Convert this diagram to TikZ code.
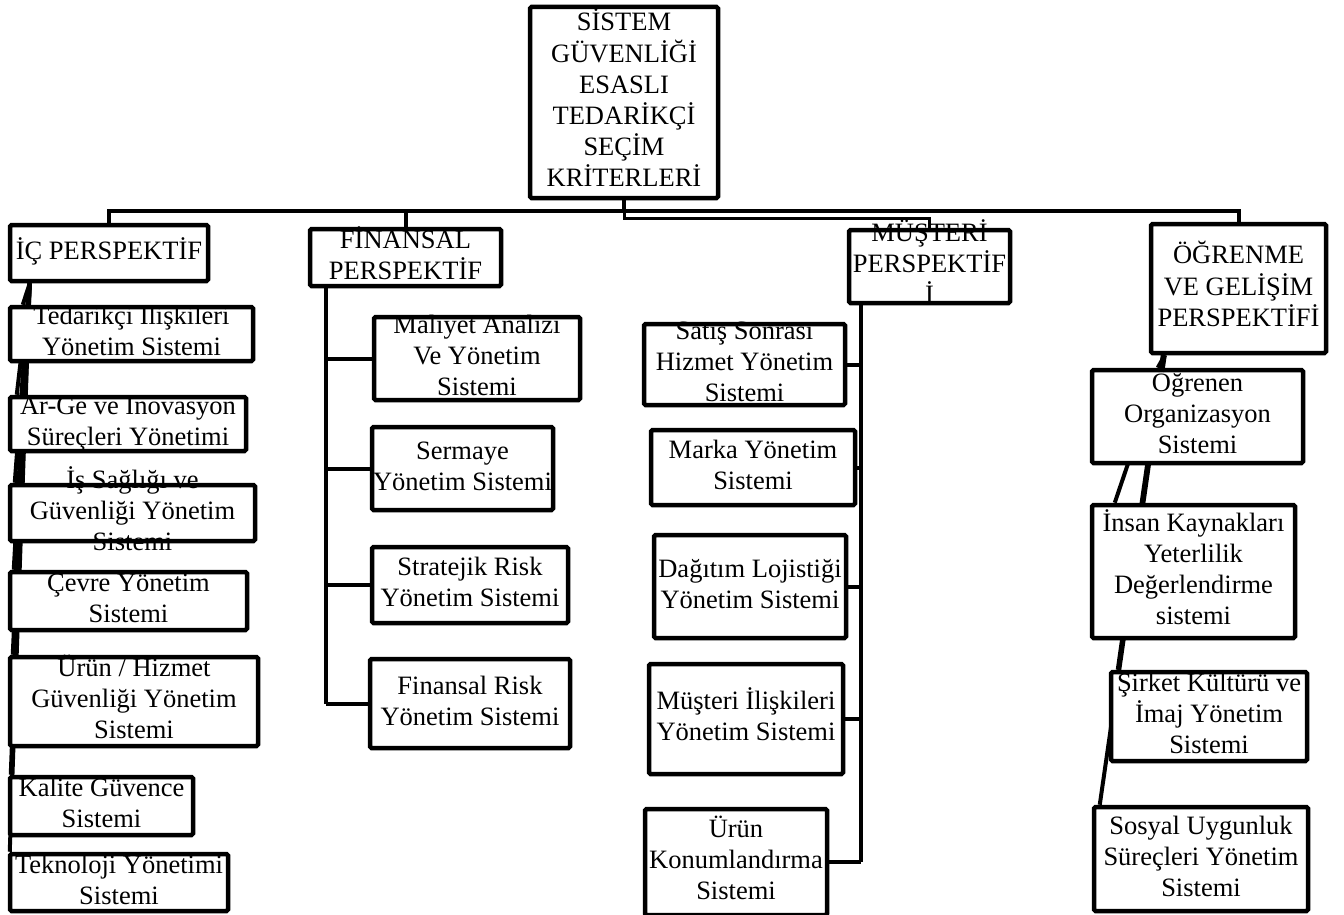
\documentclass[tikz,border=0pt]{standalone}
\usepackage{fontspec}
\setmainfont{Liberation Serif}
\usetikzlibrary{calc}
\pgfdeclarelayer{edgelayer}
\pgfdeclarelayer{nodelayer}
\pgfsetlayers{edgelayer,nodelayer,main}
\newcommand{\lns}[1]{\vbox to 0pt{\vss\hbox{\begin{tabular}{@{}c@{}}#1\end{tabular}}\vss}}
\tikzstyle{box}=[rectangle,draw=black,fill=white,line width=4.5pt,rounded corners=1.5pt,
  inner sep=0pt,font=\fontsize{26.5}{31}\selectfont]
\tikzstyle{line}=[draw=black,line width=4pt]
\tikzstyle{thin line}=[draw=black,line width=3pt]
\tikzstyle{none}=[]

\begin{document}
\begin{tikzpicture}[x=1pt,y=-1pt]
  \useasboundingbox (0,0) rectangle (1344,915);
  \begin{pgfonlayer}{nodelayer}
    \node [style=box, minimum width=188pt, minimum height=191pt] (0) at (624,102.5) {\lns{SİSTEM\\GÜVENLİĞİ\\ESASLI\\TEDARİKÇİ\\SEÇİM\\KRİTERLERİ}};
    \node [style=box, minimum width=198pt, minimum height=56pt] (1) at (109,253) {\lns{İÇ PERSPEKTİF}};
    \node [style=box, minimum width=243pt, minimum height=54pt] (2) at (131.5,334) {\lns{Tedarikçi Ilişkileri\\Yönetim Sistemi}};
    \node [style=box, minimum width=236pt, minimum height=54pt] (3) at (128,424) {\lns{Ar-Ge ve Inovasyon\\Süreçleri Yönetimi}};
    \node [style=box, minimum width=245pt, minimum height=56pt] (4) at (132.5,513) {\lns{İş Sağlığı ve\\Güvenliği Yönetim\\Sistemi}};
    \node [style=box, minimum width=237pt, minimum height=58pt] (5) at (128.5,601) {\lns{Çevre Yönetim\\Sistemi}};
    \node [style=box, minimum width=248pt, minimum height=89pt] (6) at (134,701.5) {\lns{Ürün / Hizmet\\Güvenliği Yönetim\\Sistemi}};
    \node [style=box, minimum width=183pt, minimum height=58pt] (7) at (101.5,806) {\lns{Kalite Güvence\\Sistemi}};
    \node [style=box, minimum width=218pt, minimum height=57pt] (8) at (119,882.5) {\lns{Teknoloji Yönetimi\\Sistemi}};
    \node [style=box, minimum width=191pt, minimum height=57pt] (9) at (405.5,257.5) {\lns{FİNANSAL\\PERSPEKTİF}};
    \node [style=box, minimum width=206pt, minimum height=83pt] (10) at (477,358.5) {\lns{Maliyet Analizi\\Ve Yönetim\\Sistemi}};
    \node [style=box, minimum width=181pt, minimum height=83pt] (11) at (462.5,468.5) {\lns{Sermaye\\Yönetim Sistemi}};
    \node [style=box, minimum width=196pt, minimum height=76pt] (12) at (470,585) {\lns{Stratejik Risk\\Yönetim Sistemi}};
    \node [style=box, minimum width=200pt, minimum height=89pt] (13) at (470,703.5) {\lns{Finansal Risk\\Yönetim Sistemi}};
    \node [style=box, minimum width=161pt, minimum height=73pt] (14) at (929.5,266.5) {\lns{MÜŞTERİ\\PERSPEKTİF\\İ}};
    \node [style=box, minimum width=201pt, minimum height=81pt] (15) at (744.5,364.5) {\lns{Satış Sonrası\\Hizmet Yönetim\\Sistemi}};
    \node [style=box, minimum width=204pt, minimum height=75pt] (16) at (753,467.5) {\lns{Marka Yönetim\\Sistemi}};
    \node [style=box, minimum width=192pt, minimum height=103pt] (17) at (750,586.5) {\lns{Dağıtım Lojistiği\\Yönetim Sistemi}};
    \node [style=box, minimum width=194pt, minimum height=110pt] (18) at (746,719) {\lns{Müşteri İlişkileri\\Yönetim Sistemi}};
    \node [style=box, minimum width=182pt, minimum height=106pt] (19) at (736,862) {\lns{Ürün\\Konumlandırma\\Sistemi}};
    \node [style=box, minimum width=175pt, minimum height=129pt] (20) at (1238.5,288.5) {\lns{ÖĞRENME\\VE GELİŞİM\\PERSPEKTİFİ}};
    \node [style=box, minimum width=211pt, minimum height=93pt] (21) at (1197.5,416.5) {\lns{Öğrenen\\Organizasyon\\Sistemi}};
    \node [style=box, minimum width=203pt, minimum height=133pt] (22) at (1193.5,571.5) {\lns{İnsan Kaynakları\\Yeterlilik\\Değerlendirme\\sistemi}};
    \node [style=box, minimum width=196pt, minimum height=89pt] (23) at (1209,716.5) {\lns{Şirket Kültürü ve\\İmaj Yönetim\\Sistemi}};
    \node [style=box, minimum width=214pt, minimum height=104pt] (24) at (1201,859) {\lns{Sosyal Uygunluk\\Süreçleri Yönetim\\Sistemi}};
  \end{pgfonlayer}
  \begin{pgfonlayer}{edgelayer}
    \coordinate (bus) at (624,211);
    \coordinate (bus2) at (624,218);
    \coordinate (ic) at ([xshift=22pt]1.south west);
    \coordinate (fs) at ([xshift=18pt]9.south west);
    \coordinate (ms) at ([xshift=14pt]14.south west);
    \coordinate (og) at ([xshift=16pt]20.south west);
    \draw [style=line] (0.south) to (bus);
    \draw [style=line] (bus) -| (1.north);
    \draw [style=line] (bus) -| (9.north);
    \draw [style=line] (bus) -| (20.north);
    \draw [style=thin line] (bus) to (bus2) -| (14.north);
    \draw [style=line] (ic) to ([xshift=15pt]2.north west);
    \draw [style=line] (ic) to ([xshift=9pt]3.north west);
    \draw [style=line] (ic) to ([xshift=7pt]4.north west);
    \draw [style=line] (ic) to ([xshift=6pt]5.north west);
    \draw [style=line] (ic) to ([xshift=5pt]6.north west);
    \draw [style=line] (ic) to ([xshift=3pt]7.north west);
    \draw [style=line] (ic) to ([xshift=2pt]8.north west);
    \draw [style=line] (fs) to (fs |- 13.west);
    \draw [style=line] (fs |- 10.west) to (10.west);
    \draw [style=line] (fs |- 11.west) to (11.west);
    \draw [style=line] (fs |- 12.west) to (12.west);
    \draw [style=line] (fs |- 13.west) to (13.west);
    \draw [style=line] (ms) to (ms |- 19.east);
    \draw [style=line] (ms |- 15.east) to (15.east);
    \draw [style=line] (ms |- 16.east) to (16.east);
    \draw [style=line] (ms |- 17.east) to (17.east);
    \draw [style=line] (ms |- 18.east) to (18.east);
    \draw [style=line] (ms |- 19.east) to (19.east);
    \draw [style=line] (og) to ([xshift=68pt]21.north west);
    \draw [style=line] (og) to ([xshift=25pt]22.north west);
    \draw [style=line] ([xshift=-2pt]og) to ([xshift=9pt]23.north west);
    \draw [style=line] (og) to ([xshift=8pt]24.north west);
  \end{pgfonlayer}
\end{tikzpicture}
\end{document}
